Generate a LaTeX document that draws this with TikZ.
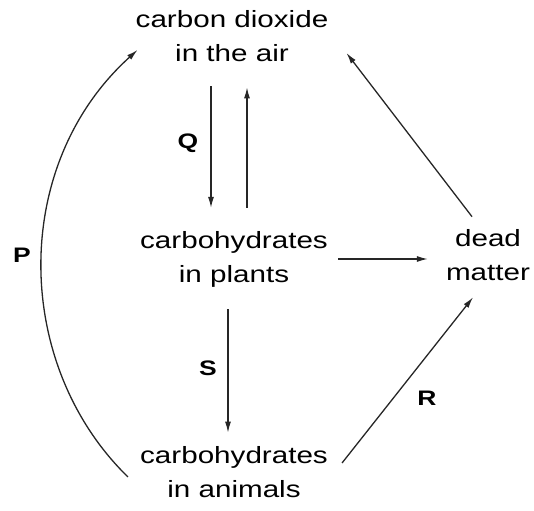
\documentclass[tikz,border=0pt]{standalone}
\usepackage{fontspec}
\setmainfont{Liberation Sans}[FakeStretch=1.26]
\usetikzlibrary{arrows.meta}

\begin{document}
\begin{tikzpicture}[
  x=1pt, y=-1pt,
  pool/.style={align=center, inner sep=2pt, font=\fontsize{23.5}{34}\selectfont},
  proc/.style={font=\fontsize{21}{24}\selectfont\bfseries, inner sep=1pt},
  arrow/.style={->, >={Latex[length=11pt,width=6pt]}, line width=1.3pt, draw=black!85}]
  \useasboundingbox (0,0) rectangle (534,510);
  % carbon stores
  \node[pool] (co2) at (232, 36.5) {carbon dioxide\\in the air};
  \node[pool] (plants) at (234, 259) {carbohydrates\\in plants};
  \node[pool] (dead) at (488, 255.5) {dead\\matter};
  \node[pool] (animals) at (234, 472.5) {carbohydrates\\in animals};
  % process letters
  \node[proc] (qlab) at (188, 143) {Q};
  \node[proc] (slab) at (208, 368) {S};
  \node[proc] (plab) at (22, 255) {P};
  \node[proc] (rlab) at (427, 398) {R};
  % flows
  \draw[arrow, shorten <=22pt, shorten >=21pt] ([xshift=-21pt]co2.south) -- ([xshift=-23pt]plants.north);
  \draw[arrow, shorten <=21pt, shorten >=23pt] ([xshift=13pt]plants.north) -- ([xshift=15pt]co2.south);
  \draw[arrow, shorten <=8pt, shorten >=16pt] (plants.east) -- (plants.east -| dead.west);
  \draw[arrow, shorten <=20pt, shorten >=12pt] ([xshift=-6pt]plants.south) -- ([xshift=-6pt]animals.north);
  \draw[arrow] ([xshift=-16pt, yshift=11pt]dead.north) -- ([xshift=16pt, yshift=-16.5pt]co2.east);
  \draw[arrow] ([xshift=12pt, yshift=9.5pt]animals.east) -- ([xshift=-15pt, yshift=-14pt]dead.south);
  \draw[arrow] ([xshift=-10pt, yshift=-4.5pt]animals.west) .. controls (13, 365) and (10, 165) .. ([xshift=4pt, yshift=-13.5pt]co2.west);
\end{tikzpicture}
\end{document}
